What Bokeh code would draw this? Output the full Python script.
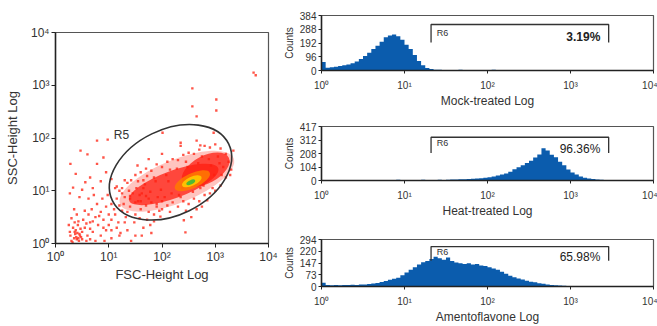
import numpy as np
from bokeh.plotting import figure
from bokeh.layouts import row, column
from bokeh.models import FixedTicker, Range1d, Label
from bokeh.embed import file_html
from bokeh.resources import INLINE

FONT = "Liberation Sans"
TXT = "#333333"
BLUE = "#0B5CAD"

# ---------------- data ----------------
decades = [0, 1, 2, 3, 4]
decade_labels = ["10⁰", "10¹", "10²", "10³", "10⁴"]

# scatter events (log10 FSC, log10 SSC)
pts = [
    (0.30,0.05),(0.35,0.10),(0.28,0.15),(0.40,0.08),(0.45,0.18),(0.38,0.25),(0.33,0.30),(0.50,0.22),
    (0.42,0.35),(0.48,0.12),(0.55,0.30),(0.36,0.40),(0.60,0.15),(0.52,0.45),(0.30,0.48),(0.65,0.40),
    (0.44,0.05),(0.58,0.05),(0.70,0.22),(0.62,0.55),(0.40,0.55),(0.75,0.50),(0.80,0.35),(0.68,0.65),
    (0.85,0.60),(0.90,0.45),(0.55,0.62),(0.95,0.70),(0.78,0.75),(1.00,0.55),(1.05,0.75),(0.88,0.85),
    (1.10,0.65),(1.15,0.85),(0.72,0.92),(0.98,0.92),(1.20,0.72),(1.25,0.95),(0.35,0.65),(0.25,0.35),
    (0.27,0.22),(0.32,0.02),(0.47,0.28),(0.37,0.18),(0.43,0.42),(0.58,0.38),(0.65,0.08),(0.85,0.15),
    (0.95,0.25),(1.05,0.10),(1.15,0.30),(1.22,0.20),(0.75,0.05),(1.30,0.40),(0.92,0.05),
    (0.39,0.12),(0.41,0.20),(0.46,0.15),(0.36,0.22),(0.43,0.10),(0.50,0.08),
    (0.47,1.76),(0.60,1.69),(0.28,1.51),(0.38,1.32),(0.33,1.06),(0.56,1.16),(0.78,1.51),(0.90,1.63),
    (0.98,1.97),(0.27,0.95),(0.78,1.95),(0.50,1.02),(0.65,1.25),(0.85,1.18),(0.70,1.05),(0.95,1.35),
    (1.05,1.22),(0.45,0.88),(0.62,0.85),(1.12,1.05),
    (1.05,0.45),(1.12,0.55),(1.18,0.40),(1.25,0.62),(1.32,0.50),(1.40,0.70),(1.48,0.40),(1.58,0.48),
    (1.65,0.30),(1.72,0.45),(1.35,0.25),(1.50,0.15),(1.20,0.15),(1.62,0.15),(1.05,0.25),(1.00,0.35),
    (0.90,0.30),(0.82,0.52),(0.70,0.42),(0.65,0.28),(1.78,0.35),(1.85,0.42),(1.80,0.20),(1.42,0.05),
    (1.35,0.60),(1.50,0.55),(1.60,0.65),(1.70,0.90),(1.90,0.75),(2.00,0.65),(1.85,0.55),(1.75,0.60),
    (1.45,0.95),(1.30,1.20),(1.65,1.05),(1.55,0.80),(1.40,0.90),(1.20,1.00),
    (1.40,0.85),(1.50,0.78),(1.60,0.80),(1.70,0.72),(1.80,0.78),(1.90,0.70),(2.00,0.80),(2.10,0.72),
    (2.20,0.78),(2.30,0.70),(2.40,0.80),(2.50,0.75),(2.60,0.85),(2.70,0.80),(2.80,0.92),(2.90,0.95),
    (3.00,1.00),(3.10,1.10),(2.45,0.62),(2.65,0.65),(2.15,0.60),(1.95,0.62),(2.75,0.70),(2.55,0.50),
    (2.35,0.88),(2.05,0.88),(1.75,0.85),(2.85,0.82),(2.95,1.05),
    (1.50,1.30),(1.60,1.35),(1.70,1.42),(1.80,1.38),(1.90,1.50),(2.00,1.45),(2.10,1.55),(2.20,1.60),
    (2.30,1.58),(2.40,1.68),(2.50,1.72),(2.60,1.70),(2.70,1.78),(2.80,1.85),(2.90,1.82),(3.00,1.88),
    (3.10,1.80),(3.20,1.70),(3.25,1.55),(3.30,1.40),(3.20,1.25),(2.35,1.85),(2.00,1.70),(1.75,1.60),
    (2.65,1.95),(1.85,1.25),(2.15,1.40),(2.45,1.55),(2.75,1.65),(3.05,1.65),(3.15,1.45),(3.28,1.30),
    (1.65,1.20),
    (1.25,1.05),(1.30,0.88),(1.35,1.15),(1.28,0.75),(1.15,1.08),(1.38,1.00),(1.42,1.20),(1.52,1.05),
    (1.55,1.18),(1.62,0.95),
    (1.58,0.92),(1.68,1.12),(1.78,0.98),(1.88,1.18),(1.98,1.02),(2.08,1.30),(2.18,0.95),(2.28,1.42),
    (2.38,1.05),(2.48,1.45),(2.58,0.98),(2.68,1.52),(2.78,1.10),(2.88,1.60),(2.98,1.30),(3.08,1.52),
    (1.72,1.28),(1.92,0.88),(2.12,1.18),(2.32,0.92),(2.52,1.28),(2.72,1.05),(2.92,1.48),(3.12,1.30),
    (2.01,2.10),(2.35,1.91),(2.72,1.86),(2.97,2.10),(3.34,1.76),(1.54,1.48),(2.57,2.94),(2.57,2.60),
    (2.65,2.41),(3.02,2.73),(3.02,2.52),(3.72,3.24),(3.76,3.19),(2.44,0.21),(2.41,0.44),(1.97,0.51),
]
scatter_x = [p[0] for p in pts]
scatter_y = [p[1] for p in pts]

# dense population: density layers (center, extent, tilt, opacity)
layer_names  = ["fringe", "red body", "red fan", "orange", "yellow", "green"]
layer_x      = [2.28, 2.22, 2.82, 2.57, 2.56, 2.54]
layer_y      = [1.18, 1.12, 1.40, 1.19, 1.18, 1.16]
layer_w      = [2.30, 1.78, 0.98, 0.72, 0.40, 0.18]
layer_h      = [0.82, 0.52, 0.52, 0.28, 0.17, 0.08]
layer_angle  = [22, 20, 28, 25, 25, 25]
layer_color  = ["#FF2A1A", "#FF1E10", "#FF1E10", "#FF7A00", "#FFD000", "#3DB83A"]
layer_alpha  = [0.28, 0.75, 0.75, 0.85, 0.85, 0.9]

# R5 gate
gate5_x, gate5_y, gate5_w, gate5_h, gate5_angle = 2.16, 1.35, 2.43, 1.62, 26

# histograms: 0.05-decade bins from 10^0
bin_lo = [i * 0.05 for i in range(80)]
mock = [60,19,22,27,31,36,42,50,62,80, 102,124,150,172,200,232,244,252,240,215,
        180,150,108,66,36,18,10,6,5,4, 3,4,2,5,3,0,4,3,2,4,
        3,5,2,0,3,4,2,3,0,4, 2,3,0,2,3,0,2,0,3,0] + [0]*20
heat = [0,0,0,0,3,0,4,3,0,4, 3,2,4,0,3,4,3,2,5,3,
        4,2,3,4,5,3,4,3,5,4, 6,7,8,9,10,12,14,16,18,21,
        25,30,38,46,55,68,86,102,118,136, 152,178,200,250,232,198,180,145,118,84,
        62,46,30,22,15,12,8,6,4,2] + [0]*10
amento = [24,10,8,9,8,10,9,11,10,12, 13,16,18,22,28,35,42,48,55,70,
          88,105,121,138,152,160,172,186,176,168, 182,160,150,146,140,145,138,140,132,128,
          120,112,104,92,80,68,58,50,44,36, 30,26,20,17,13,10,8,6,4,1] + [0]*20

panels = [
    dict(name="Mock-treated Log", counts=mock, ymax=384, yticks=[0, 96, 192, 288, 384],
         gate=(1.32, 3.46, 321, 195), pct="3.19%", pct_y=237, r6_y=265, bold=True),
    dict(name="Heat-treated Log", counts=heat, ymax=417, yticks=[0, 104, 208, 312, 417],
         gate=(1.32, 3.46, 334, 212), pct="96.36%", pct_y=243, r6_y=288, bold=False),
    dict(name="Amentoflavone Log", counts=amento, ymax=294, yticks=[0, 73, 147, 220, 294],
         gate=(1.32, 3.46, 250, 161), pct="65.98%", pct_y=183, r6_y=216, bold=False),
]

# ---------------- scatter plot ----------------
def style_axes(p, tick_size, title_size):
    for ax in (p.xaxis[0], p.yaxis[0]):
        ax.axis_line_color = "#222222"
        ax.axis_line_width = 1.5
        ax.major_tick_line_color = "#222222"
        ax.major_tick_out = 4
        ax.major_tick_in = 0
        ax.minor_tick_line_color = None
        ax.major_label_text_font = FONT
        ax.major_label_text_font_size = f"{tick_size}px"
        ax.major_label_text_color = TXT
        ax.axis_label_text_font = FONT
        ax.axis_label_text_font_size = f"{title_size}px"
        ax.axis_label_text_font_style = "normal"
        ax.axis_label_text_color = TXT
        ax.major_label_standoff = 2
    p.grid.visible = False
    p.outline_line_color = "#555555"
    p.outline_line_width = 1.2
    p.background_fill_color = "white"
    p.border_fill_color = "white"

left = figure(width=280, height=326, output_backend="svg", toolbar_location=None,
              x_range=Range1d(0, 4), y_range=Range1d(0, 4),
              min_border_left=55, min_border_right=12, min_border_top=32, min_border_bottom=83)
style_axes(left, 12, 13)
left.xaxis.ticker = FixedTicker(ticks=decades)
left.yaxis.ticker = FixedTicker(ticks=decades)
left.xaxis.major_label_overrides = dict(zip(decades, decade_labels))
left.yaxis.major_label_overrides = dict(zip(decades, decade_labels))
left.xaxis.axis_label = "FSC-Height Log"
left.yaxis.axis_label = "SSC-Height Log"
left.xaxis.axis_label_standoff = 0
left.yaxis.axis_label_standoff = 8

for i in range(len(layer_x)):
    left.ellipse(x=[layer_x[i]], y=[layer_y[i]], width=[layer_w[i]], height=[layer_h[i]],
                 angle=[layer_angle[i]], angle_units="deg", fill_color=layer_color[i],
                 fill_alpha=layer_alpha[i], line_color=None)
    if i == 0:
        left.scatter(scatter_x, scatter_y, marker="square", size=2.4, color="#FF2A1A",
                     alpha=0.8, line_color=None)
left.ellipse(x=[gate5_x], y=[gate5_y], width=[gate5_w], height=[gate5_h], angle=[gate5_angle],
             angle_units="deg", fill_color=None, line_color="#333333", line_width=1.6)
left.add_layout(Label(x=1.24, y=2.05, text="R5", text_font=FONT, text_font_size="12px",
                      text_color=TXT, text_align="center", text_baseline="middle"))

# ---------------- histograms ----------------
heights = [110, 110, 106]
tops = [15, 16, 19]
bottoms = [40, 39, 34]
hists = []
for k, pn in enumerate(panels):
    h = figure(width=377, height=heights[k], output_backend="svg", toolbar_location=None,
               x_range=Range1d(0, 4), y_range=Range1d(0, pn["ymax"]),
               min_border_left=37, min_border_right=4, min_border_top=tops[k],
               min_border_bottom=bottoms[k])
    style_axes(h, 10, 12)
    h.yaxis.axis_label_text_font_size = "10px"
    h.xaxis.ticker = FixedTicker(ticks=decades)
    h.xaxis.major_label_overrides = dict(zip(decades, decade_labels))
    h.yaxis.ticker = FixedTicker(ticks=pn["yticks"])
    h.xaxis.axis_label = pn["name"]
    h.yaxis.axis_label = "Counts"
    h.xaxis.major_label_standoff = 6
    h.xaxis.axis_label_standoff = 0
    h.yaxis.axis_label_standoff = 2
    h.yaxis.major_tick_out = 3
    h.xaxis.major_tick_out = 3

    xs = bin_lo + [4.0]
    ys = list(pn["counts"]) + [0]
    h.varea_step(x=xs, y1=[0] * len(xs), y2=ys, step_mode="after", fill_color=BLUE)

    g_lo, g_hi, g_top, g_bot = pn["gate"]
    h.line(x=[g_lo, g_lo, g_hi, g_hi], y=[g_bot, g_top, g_top, g_bot],
           line_color="#333333", line_width=1.3)
    h.add_layout(Label(x=g_lo + 0.07, y=pn["r6_y"], text="R6", text_font=FONT,
                       text_font_size="9px", text_color=TXT, text_baseline="middle"))
    h.add_layout(Label(x=g_hi - 0.1, y=pn["pct_y"], text=pn["pct"], text_font=FONT,
                       text_font_size="12px", text_color="#222222", text_align="right",
                       text_baseline="middle",
                       text_font_style="bold" if pn["bold"] else "normal"))
    hists.append(h)

layout = row(left, column(*hists))
open("out.html", "w").write(file_html(layout, INLINE))
